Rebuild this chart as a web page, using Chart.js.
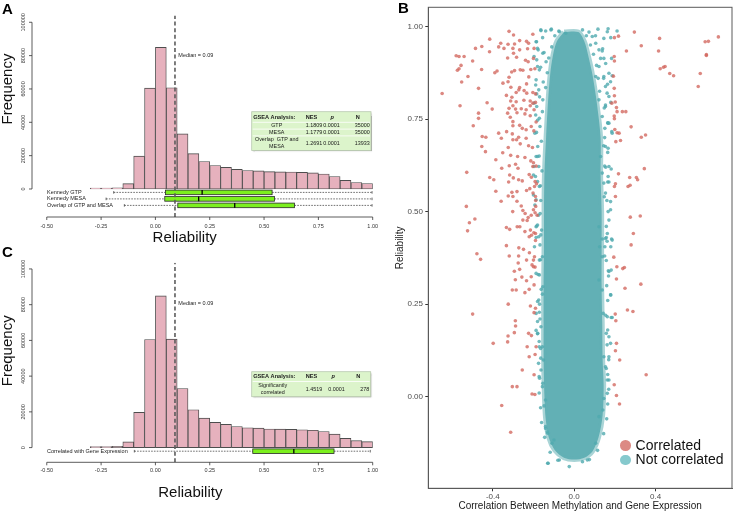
<!DOCTYPE html>
<html>
<head>
<meta charset="utf-8">
<script src="https://cdn.jsdelivr.net/npm/chart.js@4.4.1/dist/chart.umd.min.js"></script>
<style>
  html, body { margin: 0; padding: 0; background: #fff; }
  #wrap { position: relative; width: 736px; height: 514px; overflow: hidden; }
  canvas { position: absolute; }
  .tag { position: absolute; font: bold 15px 'Liberation Sans', Arial, sans-serif; line-height: 1; color: #000; }
  #legendB { position: absolute; left: 620px; top: 438px; font: 14px 'Liberation Sans', Arial, sans-serif; color: #111; }
  #legendB div { height: 14.4px; line-height: 14.4px; white-space: nowrap; }
  #legendB span { display: inline-block; width: 10.6px; height: 10.6px; border-radius: 50%; vertical-align: -1px; margin-right: 5px; }
</style>
</head>
<body>
<div id="wrap">
  <canvas id="chartA" width="380" height="250" style="left:0;top:0"></canvas>
  <canvas id="chartC" width="380" height="264" style="left:0;top:250px"></canvas>
  <canvas id="chartB" width="356" height="514" style="left:380px;top:0"></canvas>
  <div class="tag" style="left:2px;top:1px">A</div>
  <div class="tag" style="left:398px;top:0px">B</div>
  <div class="tag" style="left:2px;top:244px">C</div>
  <div id="legendB">
    <div><span style="background:#dc8a84"></span>Correlated</div>
    <div><span style="background:#86c9cd"></span>Not correlated</div>
  </div>
</div>
<script>
const FONT = "'Liberation Sans', Arial, Helvetica, sans-serif";

// histogram of reliability (same distribution in A and C)
const binMids = [-0.275, -0.225, -0.175, -0.125, -0.075, -0.025, 0.025, 0.075, 0.125, 0.175, 0.225, 0.275, 0.325,
  0.375, 0.425, 0.475, 0.525, 0.575, 0.625, 0.675, 0.725, 0.775, 0.825, 0.875, 0.925, 0.975];
const frequency = [500, 500, 700, 3200, 19700, 60500, 84900, 60700, 33100, 21200, 16500, 14100, 13000,
  11800, 11100, 10900, 10400, 10300, 10200, 10000, 9700, 9000, 7500, 5200, 3900, 3300];
const reliabilityTicks = [-0.5, -0.25, 0, 0.25, 0.5, 0.75, 1];
const frequencyTicks = [0, 20000, 40000, 60000, 80000, 100000];
const medianReliability = 0.09;

// boxplots under the histograms
const boxLabelsA = ['Kennedy GTP', 'Kennedy MESA', 'Overlap of GTP and MESA'];
const boxLowA = [-0.192, -0.227, -0.143];
const boxQ1A = [0.046, 0.043, 0.103];
const boxMedA = [0.215, 0.199, 0.365];
const boxQ3A = [0.537, 0.548, 0.640];
const boxHighA = [0.997, 0.997, 0.997];

const boxLabelsC = ['Correlated with Gene Expression'];
const boxLowC = [-0.097];
const boxQ1C = [0.448];
const boxMedC = [0.637];
const boxQ3C = [0.822];
const boxHighC = [0.989];

// GSEA tables
const gseaHeader = ['GSEA Analysis:', 'NES', 'p', 'N'];
const gseaRowsA = [
  ['GTP', '1.1809', '0.0001', '35000'],
  ['MESA', '1.1779', '0.0001', '35000'],
  ['Overlap  GTP and\nMESA', '1.2691', '0.0001', '13933']
];
const gseaRowsC = [['Significantly\ncorrelated', '1.4519', '0.0001', '278']];

// panel B scatter
const methTicks = [-0.4, 0, 0.4];
const reliabilityTicksB = [0, 0.25, 0.5, 0.75, 1];

const correlatedPts = [
  [-0.320,0.987],[-0.298,0.977],[-0.203,0.979],[-0.415,0.966],[-0.361,0.955],[-0.325,0.952],[-0.293,0.953],[-0.268,0.962],[-0.234,0.960],[-0.224,0.955],
  [-0.454,0.946],[-0.485,0.941],[-0.416,0.932],[-0.371,0.945],[-0.345,0.941],[-0.301,0.941],[-0.268,0.937],[-0.229,0.940],[-0.197,0.941],
  [-0.580,0.921],[-0.566,0.919],[-0.541,0.919],[-0.499,0.907],[-0.298,0.928],[-0.327,0.915],[-0.226,0.905],[-0.239,0.909],[-0.200,0.914],[-0.283,0.917],
  [-0.574,0.882],[-0.566,0.886],[-0.556,0.895],[-0.522,0.865],[-0.455,0.884],[-0.379,0.880],[-0.390,0.875],[-0.307,0.877],[-0.293,0.881],[-0.265,0.883],[-0.252,0.882],[-0.213,0.884],[-0.193,0.886],
  [-0.553,0.850],[-0.470,0.833],[-0.649,0.819],[-0.320,0.863],[-0.223,0.864],[-0.234,0.845],[-0.325,0.851],[-0.311,0.836],[-0.268,0.835],[-0.272,0.829],[-0.246,0.827],[-0.233,0.820],[-0.203,0.822],[-0.190,0.818],
  [-0.350,0.847],[-0.285,0.822],
  [-0.333,0.814],[-0.306,0.809],[-0.312,0.799],[-0.285,0.797],[-0.247,0.801],[-0.216,0.799],[-0.203,0.793],[-0.190,0.795],
  [-0.561,0.786],[-0.428,0.794],[-0.403,0.777],[-0.470,0.766],[-0.470,0.752],[-0.496,0.732],[-0.452,0.703],[-0.434,0.701],[-0.454,0.676],[-0.436,0.662],[-0.385,0.640],
  [-0.358,0.698],[-0.371,0.712],[-0.332,0.716],[-0.301,0.732],[-0.268,0.733],[-0.255,0.725],[-0.236,0.721],[-0.211,0.730],[-0.198,0.718],[-0.304,0.710],[-0.273,0.701],[-0.236,0.698],[-0.265,0.683],[-0.224,0.678],[-0.205,0.673],
  [-0.327,0.766],[-0.314,0.755],[-0.301,0.743],[-0.281,0.767],[-0.242,0.764],[-0.216,0.759],[-0.197,0.775],[-0.216,0.786],[-0.187,0.742],[-0.320,0.779],[-0.288,0.777],[-0.260,0.778],[-0.236,0.775],[-0.301,0.786],
  [-0.351,0.659],[-0.312,0.652],[-0.278,0.649],[-0.242,0.646],[-0.324,0.673],[-0.301,0.694],[-0.283,0.694],[-0.319,0.624],[-0.288,0.628],[-0.276,0.617],[-0.356,0.617],[-0.213,0.637],[-0.200,0.632],[-0.203,0.622],[-0.187,0.623],
  [-0.415,0.592],[-0.395,0.586],[-0.385,0.555],[-0.317,0.599],[-0.322,0.580],[-0.299,0.591],[-0.273,0.586],[-0.255,0.583],[-0.221,0.600],[-0.210,0.593],[-0.192,0.581],[-0.185,0.575],[-0.195,0.568],
  [-0.359,0.528],[-0.324,0.542],[-0.306,0.552],[-0.301,0.541],[-0.281,0.554],[-0.234,0.557],[-0.218,0.562],[-0.202,0.550],[-0.190,0.541],
  [-0.528,0.606],[-0.530,0.514],[-0.488,0.480],[-0.515,0.470],[-0.524,0.448],[-0.302,0.500],[-0.281,0.528],[-0.260,0.515],[-0.252,0.503],[-0.241,0.495],[-0.226,0.484],[-0.211,0.490],[-0.200,0.505],[-0.192,0.497],[-0.182,0.490],[-0.189,0.514],[-0.189,0.530],
  [-0.333,0.457],[-0.317,0.452],[-0.280,0.459],[-0.267,0.459],[-0.242,0.446],[-0.252,0.477],[-0.231,0.476],[-0.215,0.450],[-0.198,0.443],
  [-0.333,0.408],[-0.272,0.402],[-0.249,0.398],[-0.221,0.432],[-0.210,0.436],[-0.190,0.422],[-0.190,0.441],
  [-0.478,0.386],[-0.460,0.371],[-0.319,0.380],[-0.273,0.380],[-0.275,0.361],[-0.234,0.369],[-0.207,0.356],[-0.200,0.369],[-0.195,0.378],[-0.220,0.389],[-0.192,0.350],
  [-0.294,0.339],[-0.268,0.344],[-0.257,0.323],[-0.234,0.313],[-0.211,0.324],[-0.200,0.351],[-0.289,0.316],[-0.304,0.288],[-0.285,0.288],[-0.242,0.281],[-0.221,0.290],[-0.197,0.302],
  [-0.324,0.250],[-0.499,0.223],[-0.197,0.227],[-0.215,0.245],[-0.190,0.239],
  [-0.289,0.205],[-0.288,0.191],[-0.294,0.173],[-0.325,0.164],[-0.327,0.148],[-0.398,0.144],[-0.224,0.171],[-0.210,0.165],[-0.231,0.135],[-0.187,0.135],[-0.221,0.108],[-0.192,0.114],
  [-0.255,0.072],[-0.197,0.059],[-0.304,0.027],[-0.281,0.027],[-0.207,0.007],[-0.193,0.006],[-0.356,-0.024],[-0.312,-0.096],
  [0.296,0.985],[0.218,0.974],[0.198,0.970],[0.420,0.968],[0.709,0.972],[0.644,0.959],[0.660,0.960],[0.330,0.948],[0.257,0.934],[0.415,0.934],[0.650,0.924],[0.650,0.922],[0.197,0.919],[0.198,0.907],
  [0.447,0.892],[0.439,0.890],[0.423,0.886],[0.470,0.873],[0.489,0.867],[0.620,0.873],[0.610,0.838],[0.193,0.866],[0.197,0.833],[0.198,0.813],[0.202,0.796],[0.208,0.781],[0.211,0.770],[0.237,0.770],[0.254,0.770],[0.197,0.758],[0.198,0.751],
  [0.280,0.729],[0.330,0.701],[0.351,0.707],[0.211,0.713],[0.200,0.722],[0.221,0.712],[0.228,0.692],[0.205,0.689],[0.185,0.793],[0.345,0.616],[0.312,0.586],[0.306,0.592],[0.273,0.592],[0.265,0.568],[0.275,0.571],[0.218,0.602],[0.203,0.575],[0.198,0.568],[0.203,0.541],
  [0.276,0.485],[0.325,0.488],[0.291,0.441],[0.280,0.410],[0.195,0.377],[0.210,0.351],[0.239,0.346],[0.247,0.349],[0.208,0.318],[0.328,0.304],[0.250,0.293],[0.262,0.234],[0.289,0.230],[0.202,0.223],[0.205,0.205],
  [0.208,0.144],[0.203,0.124],[0.224,0.099],[0.354,0.059],[0.197,0.032],[0.208,0.003],[0.223,-0.020]
];

const notCorrelatedPts = [
  [-0.163,0.989],[-0.114,0.991],[-0.073,0.986],[-0.041,0.982],[0.041,0.991],[0.073,0.985],[0.117,0.993],[0.163,0.986],
  [-0.164,0.991],[-0.140,0.988],[-0.112,0.993],[-0.075,0.988],[0.167,0.994],[0.211,0.988],[0.146,0.968],[0.180,0.970],
  [-0.187,0.959],[-0.177,0.937],[-0.154,0.928],[-0.184,0.910],[-0.138,0.905],[-0.171,0.883],[-0.187,0.856],[-0.174,0.829],[-0.154,0.802],
  [-0.184,0.784],[-0.171,0.752],[-0.193,0.712],[-0.179,0.676],[-0.187,0.649],[-0.174,0.622],[-0.190,0.595],[-0.171,0.568],[-0.187,0.532],
  [-0.167,0.495],[-0.187,0.459],[-0.174,0.432],[-0.195,0.405],[-0.171,0.369],[-0.187,0.333],[-0.154,0.297],[-0.174,0.261],[-0.187,0.225],
  [-0.163,0.189],[-0.179,0.171],[-0.171,0.135],[-0.151,0.099],[-0.163,0.072],[-0.154,0.036],[-0.141,-0.009],[-0.141,-0.081],[-0.130,-0.099],
  [-0.109,-0.126],[-0.073,-0.171],[-0.024,-0.189],[-0.130,-0.180],[0.041,-0.176],[0.065,-0.171],[0.106,-0.126],[0.122,-0.054],[0.141,-0.036],
  [0.163,0.009],[0.171,0.045],[0.154,0.081],[0.146,0.108],[0.179,0.144],[0.171,0.162],[0.158,0.171],[0.163,0.216],[0.187,0.214],[0.180,0.275],
  [0.138,0.288],[0.122,0.315],[0.171,0.338],[0.187,0.423],[0.154,0.427],[0.138,0.378],[0.125,0.405],[0.163,0.441],[0.122,0.459],[0.171,0.477],
  [0.179,0.527],[0.154,0.550],[0.146,0.577],[0.138,0.604],[0.171,0.622],[0.130,0.649],[0.154,0.676],[0.187,0.712],[0.171,0.739],[0.138,0.757],
  [0.154,0.784],[0.122,0.802],[0.171,0.811],[0.154,0.838],[0.171,0.874],[0.146,0.865],[0.122,0.892],[0.130,0.914],[0.122,0.937],[0.106,0.955],
  [0.089,0.973],[0.106,0.865],
  [0.138,0.934],[0.146,0.914],[0.184,0.914],[0.187,0.867],[0.179,0.851],[0.164,0.844],[0.180,0.795],[0.154,0.788],
  [0.166,0.739],[0.151,0.725],[0.185,0.716],[0.145,0.678],[0.167,0.671],
  [0.182,0.615],[0.150,0.623],[0.167,0.595],[0.171,0.580],[0.161,0.530],[0.179,0.505],[0.138,0.426],[0.184,0.426],[0.158,0.430],[0.151,0.405],
  [0.180,0.405],[0.158,0.368],[0.182,0.342],[0.169,0.326],[0.179,0.275],[0.143,0.225],[0.182,0.214],[0.171,0.108],[0.158,0.076],[0.163,0.045],[0.146,-0.005],
  [-0.185,0.959],[-0.180,0.941],[-0.197,0.919],[-0.180,0.892],[-0.189,0.842],[-0.184,0.818],[-0.197,0.793],[-0.189,0.761],[-0.180,0.747],
  [-0.185,0.714],[-0.180,0.649],[-0.197,0.622],[-0.200,0.599],[-0.180,0.581],[-0.200,0.545],[-0.193,0.518],[-0.180,0.464],
  [-0.184,0.461],[-0.187,0.430],[-0.164,0.437],[-0.156,0.378],[-0.171,0.329],[-0.156,0.277],[-0.180,0.257],[-0.171,0.228],[-0.180,0.203],[-0.187,0.179],
  [-0.172,0.149],[-0.156,0.135],[-0.164,0.104],[-0.172,0.054],[-0.156,0.027],[-0.148,-0.025],[-0.140,-0.086],[-0.132,-0.095],[-0.099,-0.117],[-0.128,-0.180],
  [-0.155,0.97],[-0.148,0.93],[-0.165,0.89],[-0.152,0.85],[-0.170,0.81],[-0.156,0.77],[-0.168,0.73],[-0.161,0.69],[-0.172,0.65],[-0.158,0.61],
  [-0.166,0.57],[-0.164,0.53],[-0.175,0.49],[-0.160,0.45],[-0.168,0.41],[-0.165,0.37],[-0.177,0.33],[-0.162,0.29],[-0.170,0.25],[-0.168,0.21],
  [-0.180,0.17],[-0.165,0.13],[-0.175,0.09],[-0.170,0.05],[-0.172,0.01],[-0.165,-0.03],[-0.160,-0.07],[-0.145,-0.11],[-0.118,-0.150],[-0.080,-0.172],
  [0.105,0.975],[0.140,0.94],[0.155,0.90],[0.145,0.86],[0.162,0.82],[0.148,0.78],[0.165,0.74],[0.150,0.70],[0.165,0.66],[0.155,0.62],
  [0.165,0.58],[0.148,0.54],[0.167,0.50],[0.158,0.46],[0.162,0.42],[0.150,0.38],[0.168,0.34],[0.160,0.30],[0.165,0.26],[0.155,0.22],
  [0.165,0.18],[0.162,0.14],[0.170,0.10],[0.165,0.06],[0.170,0.02],[0.165,-0.02],[0.160,-0.06],[0.145,-0.10],[0.115,-0.145],[0.075,-0.17],
  [-0.095,0.975],[-0.110,0.945],[-0.125,0.915],[-0.132,0.875],[-0.140,0.835],[0.060,0.975],[0.080,0.950],[0.095,0.925],[0.110,0.895],[0.118,0.860],[0.125,0.825]
];

// outline of the dense, fully overlapping part of the "not correlated" cloud
const notCorrelatedCore = [
  [-0.050,0.985],[-0.085,0.960],[-0.105,0.920],[-0.118,0.870],[-0.128,0.800],[-0.138,0.700],[-0.146,0.600],[-0.148,0.500],[-0.148,0.400],
  [-0.150,0.300],[-0.150,0.200],[-0.150,0.100],[-0.146,0.000],[-0.140,-0.060],[-0.125,-0.110],[-0.095,-0.145],[-0.050,-0.165],[0.000,-0.170],
  [0.050,-0.165],[0.090,-0.148],[0.120,-0.110],[0.140,-0.050],[0.145,0.030],[0.140,0.100],[0.138,0.200],[0.135,0.300],[0.135,0.400],
  [0.135,0.500],[0.130,0.600],[0.130,0.700],[0.110,0.800],[0.090,0.870],[0.070,0.920],[0.050,0.960],[0.020,0.985],[-0.050,0.985]
];

const toXY = arr => arr.map(([x, y]) => ({ x, y }));

// R style axes, boxplots, tables and labels for the histogram panels
function drawTable(ctx, t, header, rows) {
  const h = t.headH + t.rowH.reduce((a, b) => a + b, 0);
  ctx.save();
  ctx.shadowColor = 'rgba(0,0,0,0.35)';
  ctx.shadowOffsetX = 1.2; ctx.shadowOffsetY = 1.2; ctx.shadowBlur = 1.5;
  ctx.fillStyle = '#dcf4cb';
  ctx.fillRect(t.x, t.y, t.w, h);
  ctx.restore();
  ctx.save();
  ctx.strokeStyle = '#b9c9b0'; ctx.lineWidth = 0.8;
  ctx.strokeRect(t.x, t.y, t.w, h);
  ctx.strokeStyle = '#ffffff';
  let y = t.y + t.headH;
  ctx.beginPath();
  t.rowH.forEach(rh => { ctx.moveTo(t.x + 1, y); ctx.lineTo(t.x + t.w - 1, y); y += rh; });
  ctx.stroke();
  ctx.fillStyle = '#1a1a1a';
  ctx.textBaseline = 'middle';
  const hy = t.y + t.headH / 2;
  ctx.font = `bold 5.6px ${FONT}`;
  ctx.textAlign = 'left';
  ctx.fillText(header[0], t.x + 1.5, hy);
  ctx.fillText(header[1], t.x + t.cols.nes, hy);
  ctx.fillText(header[3], t.x + t.cols.nHead, hy);
  ctx.font = `italic bold 5.6px ${FONT}`;
  ctx.textAlign = 'center';
  ctx.fillText(header[2], t.x + t.cols.pHead, hy);
  ctx.font = `5.4px ${FONT}`;
  y = t.y + t.headH;
  rows.forEach((r, i) => {
    const cy = y + t.rowH[i] / 2;
    const lines = r[0].split('\n');
    ctx.textAlign = 'center';
    lines.forEach((ln, k) => ctx.fillText(ln, t.x + t.cols.label, cy + (k - (lines.length - 1) / 2) * 6.4));
    ctx.textAlign = 'left';
    ctx.fillText(r[1], t.x + t.cols.nes, cy);
    ctx.fillText(r[2], t.x + t.cols.p, cy);
    ctx.textAlign = 'right';
    ctx.fillText(r[3], t.x + t.cols.nRight, cy);
    y += t.rowH[i];
  });
  ctx.restore();
}

const rPanel = {
  id: 'rPanel',
  beforeDatasetsDraw(chart, args, o) {
    const ctx = chart.ctx, xs = chart.scales.x, ys = chart.scales.y;
    const px = v => xs.getPixelForValue(v);
    const y0 = ys.getPixelForValue(0);
    const b = o.box;
    ctx.save();
    b.labels.forEach((lab, i) => {
      const y = y0 + o.boxFirst + i * o.boxGap;
      ctx.strokeStyle = '#333'; ctx.lineWidth = 0.7;
      ctx.setLineDash([1.6, 1.2]);
      ctx.beginPath();
      ctx.moveTo(px(b.low[i]), y); ctx.lineTo(px(b.q1[i]), y);
      ctx.moveTo(px(b.q3[i]), y); ctx.lineTo(px(b.high[i]), y);
      ctx.stroke();
      ctx.setLineDash([]);
      ctx.beginPath();
      [b.low[i], b.high[i]].forEach(v => { ctx.moveTo(px(v), y - 1.3); ctx.lineTo(px(v), y + 1.3); });
      ctx.stroke();
      ctx.fillStyle = '#7cf01e';
      ctx.fillRect(px(b.q1[i]), y - 2.3, px(b.q3[i]) - px(b.q1[i]), 4.6);
      ctx.strokeStyle = '#2a2a2a'; ctx.lineWidth = 0.8;
      ctx.strokeRect(px(b.q1[i]), y - 2.3, px(b.q3[i]) - px(b.q1[i]), 4.6);
      ctx.strokeStyle = '#000'; ctx.lineWidth = 1.3;
      ctx.beginPath(); ctx.moveTo(px(b.med[i]), y - 2.3); ctx.lineTo(px(b.med[i]), y + 2.3); ctx.stroke();
      ctx.fillStyle = '#222';
      ctx.font = `5.5px ${FONT}`;
      ctx.textAlign = 'left'; ctx.textBaseline = 'middle';
      ctx.fillText(lab, o.boxLabelX, y);
    });
    ctx.restore();
  },
  afterDatasetsDraw(chart, args, o) {
    const ctx = chart.ctx, xs = chart.scales.x, ys = chart.scales.y, area = chart.chartArea;
    ctx.save();
    ctx.strokeStyle = '#333'; ctx.fillStyle = '#333'; ctx.lineWidth = 0.8;
    // x axis
    const ay = area.bottom;
    ctx.beginPath();
    ctx.moveTo(xs.getPixelForValue(reliabilityTicks[0]), ay);
    ctx.lineTo(xs.getPixelForValue(reliabilityTicks[reliabilityTicks.length - 1]), ay);
    reliabilityTicks.forEach(t => { const p = xs.getPixelForValue(t); ctx.moveTo(p, ay); ctx.lineTo(p, ay + 3); });
    // y axis
    const ax = area.left;
    ctx.moveTo(ax, ys.getPixelForValue(frequencyTicks[0]));
    ctx.lineTo(ax, ys.getPixelForValue(frequencyTicks[frequencyTicks.length - 1]));
    frequencyTicks.forEach(t => { const p = ys.getPixelForValue(t); ctx.moveTo(ax, p); ctx.lineTo(ax - 3, p); });
    ctx.stroke();
    ctx.font = `5.5px ${FONT}`;
    ctx.textAlign = 'center'; ctx.textBaseline = 'middle';
    reliabilityTicks.forEach(t => ctx.fillText(t.toFixed(2), xs.getPixelForValue(t), ay + o.xLabelGap));
    frequencyTicks.forEach(t => {
      ctx.save();
      ctx.translate(ax - 9, ys.getPixelForValue(t));
      ctx.rotate(-Math.PI / 2);
      ctx.fillText(String(t), 0, 0);
      ctx.restore();
    });
    // axis titles
    ctx.fillStyle = '#111';
    ctx.font = `15px ${FONT}`;
    ctx.fillText('Reliability', o.xTitle[0], o.xTitle[1]);
    ctx.save();
    ctx.translate(o.yTitle[0], o.yTitle[1]);
    ctx.rotate(-Math.PI / 2);
    ctx.fillText('Frequency', 0, 0);
    ctx.restore();
    // median label
    ctx.font = `5.5px ${FONT}`;
    ctx.textAlign = 'left';
    ctx.fillStyle = '#222';
    ctx.fillText('Median = ' + medianReliability.toFixed(2), o.medianAt[0], o.medianAt[1]);
    ctx.restore();
    drawTable(ctx, o.table, gseaHeader, o.rows);
  }
};

function histogram(id, yMin, yMax, padding, panel) {
  return new Chart(document.getElementById(id), {
    type: 'bar',
    data: {
      datasets: [
        {
          type: 'line',
          data: [{ x: medianReliability, y: yMin }, { x: medianReliability, y: yMax }],
          borderColor: '#5c5c5c',
          borderWidth: 1.6,
          borderDash: [4, 2.6],
          pointRadius: 0
        },
        {
          data: binMids.map((m, i) => ({ x: m, y: frequency[i] })),
          backgroundColor: '#e6b1bd',
          borderColor: '#4d4d4d',
          borderWidth: 0.9,
          borderSkipped: false,
          barPercentage: 1,
          categoryPercentage: 1
        }
      ]
    },
    options: {
      responsive: false,
      animation: false,
      layout: { padding },
      plugins: { legend: { display: false }, tooltip: { enabled: false }, rPanel: panel },
      scales: {
        x: { type: 'linear', min: -0.568, max: 1.0, offset: false, display: false },
        y: { type: 'linear', min: yMin, max: yMax, display: false }
      }
    },
    plugins: [rPanel]
  });
}

histogram('chartA', -16800, 104000, { left: 32, right: 7.3, top: 15.6, bottom: 33 }, {
  box: { labels: boxLabelsA, low: boxLowA, q1: boxQ1A, med: boxMedA, q3: boxQ3A, high: boxHighA },
  boxFirst: 3.4, boxGap: 6.5, boxLabelX: 47,
  xLabelGap: 9.7, xTitle: [184.7, 238], yTitle: [8, 89], medianAt: [178.3, 55],
  table: { x: 251.7, y: 111.7, w: 119.3, headH: 10.6, rowH: [6.8, 6.8, 14.6],
    cols: { label: 25, nes: 54, p: 71.6, pHead: 80.5, nHead: 104, nRight: 118 } },
  rows: gseaRowsA
});

histogram('chartC', -8230, 103500, { left: 32, right: 7.3, top: 12.7, bottom: 51.7 }, {
  box: { labels: boxLabelsC, low: boxLowC, q1: boxQ1C, med: boxMedC, q3: boxQ3C, high: boxHighC },
  boxFirst: 3.6, boxGap: 6.5, boxLabelX: 47,
  xLabelGap: 7.7, xTitle: [190.3, 243.3], yTitle: [8, 100.8], medianAt: [178.3, 53.3],
  table: { x: 251.7, y: 121.7, w: 119, headH: 9.8, rowH: [15.2],
    cols: { label: 21, nes: 54, p: 76.6, pHead: 81.6, nHead: 104.5, nRight: 117.6 } },
  rows: gseaRowsC
});

// frame around panel B plot area
const frameB = {
  id: 'frameB',
  afterDraw(chart) {
    const { ctx, chartArea: a } = chart;
    ctx.save();
    ctx.strokeStyle = '#5a5a5a'; ctx.lineWidth = 1;
    ctx.strokeRect(a.left, a.top, a.right - a.left, a.bottom - a.top);
    ctx.restore();
  }
};

new Chart(document.getElementById('chartB'), {
  type: 'scatter',
  data: {
    datasets: [
      { label: 'Correlated', data: toXY(correlatedPts), backgroundColor: 'rgba(210,102,94,0.78)', pointRadius: 1.8, borderWidth: 0 },
      { label: 'Not correlated', data: toXY(notCorrelatedPts), backgroundColor: 'rgba(80,170,175,0.8)', pointRadius: 1.8, borderWidth: 0 },
      {
        label: 'Not correlated (dense)',
        data: toXY(notCorrelatedCore),
        showLine: true,
        fill: 'shape',
        tension: 0.3,
        backgroundColor: '#62b0b5',
        borderColor: 'rgba(98,176,181,0.55)',
        borderWidth: 5,
        pointRadius: 0
      }
    ]
  },
  options: {
    responsive: false,
    animation: false,
    layout: { padding: { left: 0, right: 1.7, top: 7.3, bottom: 0 } },
    plugins: { legend: { display: false }, tooltip: { enabled: false } },
    scales: {
      x: {
        type: 'linear', min: -0.717, max: 0.776,
        afterBuildTicks: s => { s.ticks = methTicks.map(v => ({ value: v })); },
        afterFit: s => { s.height = 25.7; },
        ticks: { callback: v => v.toFixed(1), font: { size: 8, family: FONT }, color: '#4d4d4d', padding: 1, maxRotation: 0 },
        grid: { drawOnChartArea: false, tickLength: 3, color: '#333' },
        border: { color: '#5a5a5a', width: 1 },
        title: { display: true, text: 'Correlation Between Methylation and Gene Expression', font: { size: 10, family: FONT }, color: '#1a1a1a', padding: { top: 0, bottom: 1.3 } }
      },
      y: {
        type: 'linear', min: -0.2476, max: 1.052,
        afterBuildTicks: s => { s.ticks = reliabilityTicksB.map(v => ({ value: v })); },
        afterFit: s => { s.width = 48.3; },
        ticks: { callback: v => v.toFixed(2), font: { size: 8, family: FONT }, color: '#4d4d4d', padding: 2.3 },
        grid: { drawOnChartArea: false, tickLength: 3, color: '#333' },
        border: { color: '#5a5a5a', width: 1 },
        title: { display: true, text: 'Reliability', font: { size: 10, family: FONT }, color: '#1a1a1a', padding: { top: 14.7, bottom: 0 } }
      }
    }
  },
  plugins: [frameB]
});
</script>
</body>
</html>
